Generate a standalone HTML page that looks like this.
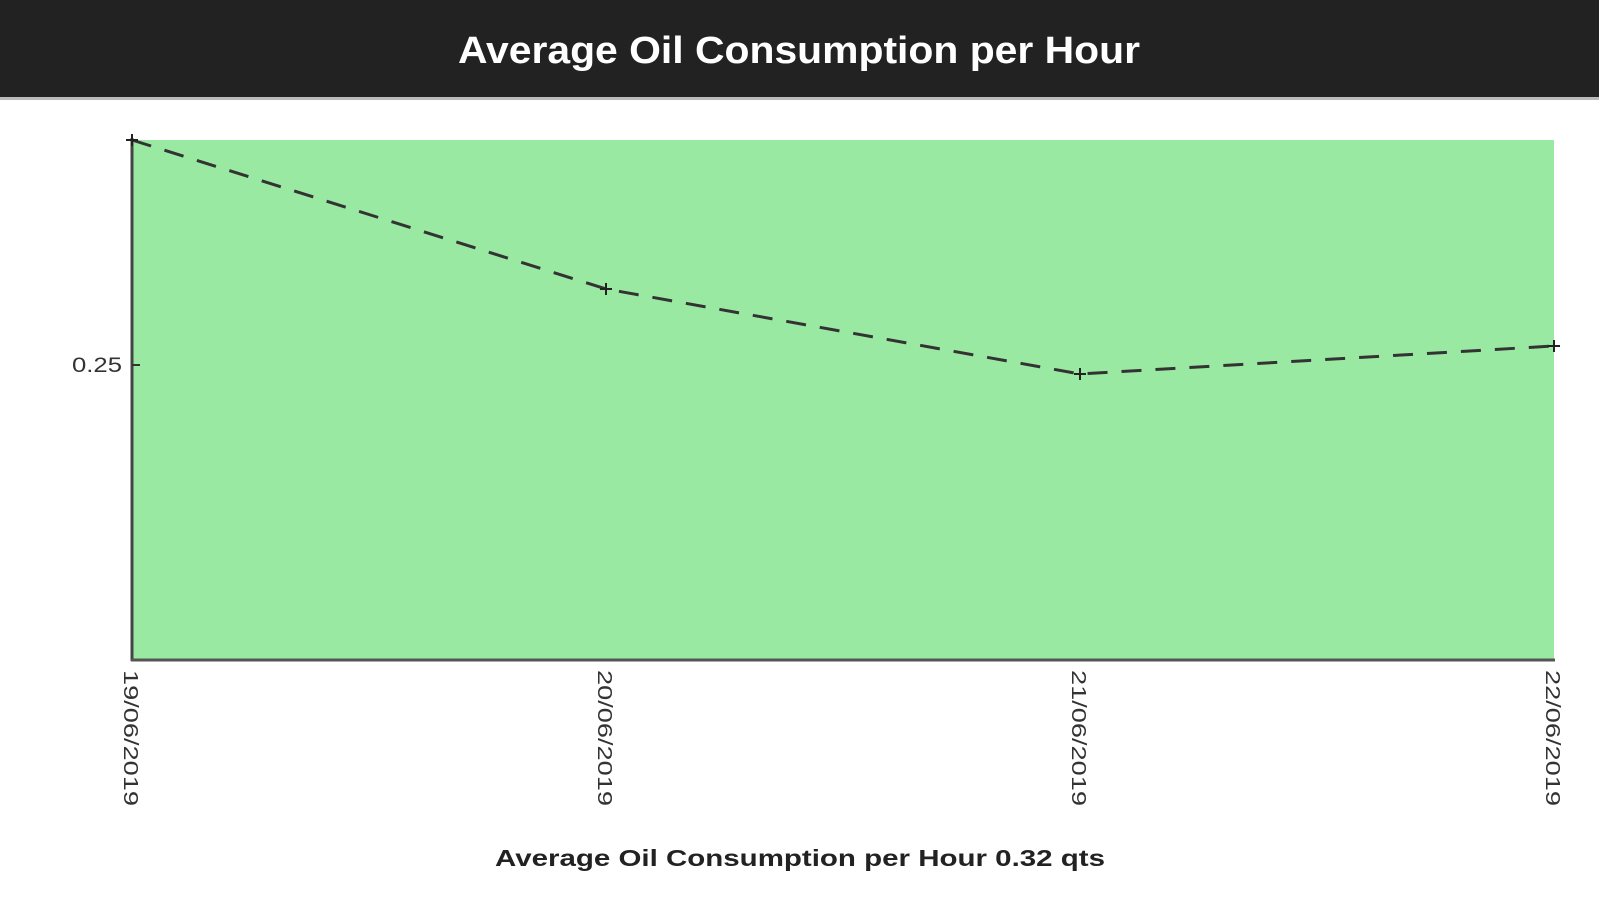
<!DOCTYPE html>
<html><head><meta charset="utf-8"><style>
html,body{margin:0;padding:0;background:#fff;}
svg{display:block;}
</style></head><body>
<svg width="1599" height="900" viewBox="0 0 1599 900" xmlns="http://www.w3.org/2000/svg" font-family="Liberation Sans, sans-serif">
<rect x="0" y="0" width="1599" height="97" fill="#222"/>
<rect x="0" y="97" width="1599" height="3" fill="#bbb"/>
<text x="799" y="63" text-anchor="middle" fill="#fff" font-size="38" font-weight="bold" textLength="682" lengthAdjust="spacingAndGlyphs">Average Oil Consumption per Hour</text>
<rect x="132" y="140" width="1422" height="520" fill="#9ae9a3"/>
<line x1="132" y1="138" x2="132" y2="661" stroke="#444" stroke-width="3"/>
<line x1="131" y1="660" x2="1555" y2="660" stroke="#555" stroke-width="3"/>
<line x1="132" y1="365" x2="140" y2="365" stroke="#333" stroke-width="2"/>
<text x="122" y="372" text-anchor="end" font-size="21" fill="#333" textLength="50" lengthAdjust="spacingAndGlyphs">0.25</text>
<polyline points="132,140 606,289 1080,374 1554,346" fill="none" stroke="#333" stroke-width="3" stroke-dasharray="20,14"/>
<g stroke="#222" stroke-width="2">
<path d="M126 140h12M132 134v12"/><path d="M600 289h12M606 283v12"/><path d="M1074 374h12M1080 368v12"/><path d="M1548 346h12M1554 340v12"/>
</g>
<g font-size="20" fill="#333">
<text transform="translate(124,670) rotate(90)" textLength="136" lengthAdjust="spacingAndGlyphs">19/06/2019</text>
<text transform="translate(598,670) rotate(90)" textLength="136" lengthAdjust="spacingAndGlyphs">20/06/2019</text>
<text transform="translate(1072,670) rotate(90)" textLength="136" lengthAdjust="spacingAndGlyphs">21/06/2019</text>
<text transform="translate(1546,670) rotate(90)" textLength="136" lengthAdjust="spacingAndGlyphs">22/06/2019</text>
</g>
<text x="800" y="866" text-anchor="middle" font-size="23" font-weight="bold" fill="#222" textLength="610" lengthAdjust="spacingAndGlyphs">Average Oil Consumption per Hour 0.32 qts</text>
</svg>
</body></html>
